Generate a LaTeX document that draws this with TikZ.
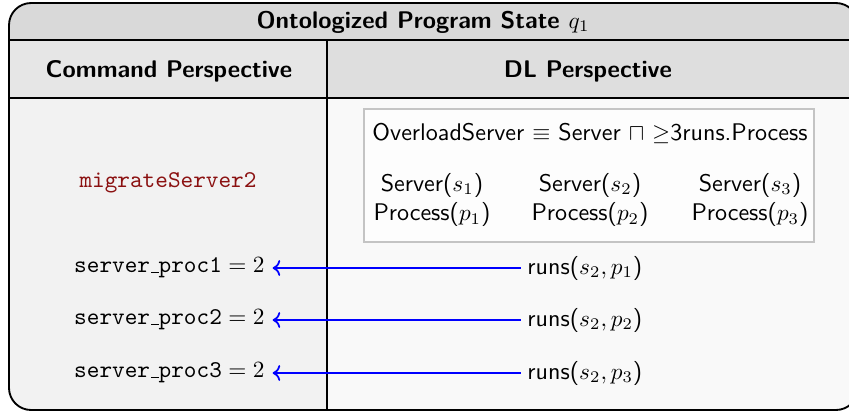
\documentclass[tikz,border=0pt]{standalone}
\usetikzlibrary{arrows.meta}
\definecolor{titlegray}{HTML}{D9D9D9}
\definecolor{headleft}{HTML}{E6E6E6}
\definecolor{headright}{HTML}{DEDEDE}
\definecolor{bodyleft}{HTML}{F2F2F2}
\definecolor{bodyright}{HTML}{F9F9F9}
\definecolor{boxborder}{HTML}{C4C4C4}
\definecolor{cmdred}{HTML}{8B1111}
\newcommand\ulbar{\leavevmode\kern.06em\vbox{\hrule width.3em}}
\newcommand\fsz{\fontsize{10.35pt}{12.6pt}\selectfont}
\begin{document}
\begin{tikzpicture}[x=0.43pt,y=-0.43pt,
  headtxt/.style={font=\fsz\sffamily\bfseries, inner sep=0pt},
  dltxt/.style={font=\fsz\sffamily, inner sep=0pt},
  codetxt/.style={font=\fsz\ttfamily, inner sep=0pt},
  maplink/.style={draw=blue, line width=0.75pt, <-},
  rule/.style={draw=black, line width=0.5pt}]
\useasboundingbox (0,0) rectangle (849,412);
\clip (0,0) rectangle (849,412);
% frame contents
\begin{scope}
  \clip[rounded corners=9.5pt] (9,3) rectangle (858,410);
  \fill[titlegray] (9,3) rectangle (858,40);
  \fill[headleft] (9,40) rectangle (327,98);
  \fill[headright] (327,40) rectangle (858,98);
  \fill[bodyleft] (9,98) rectangle (327,410);
  \fill[bodyright] (327,98) rectangle (858,410);
  \draw[rule] (9,40) -- (858,40);
  \draw[rule] (9,98) -- (858,98);
  \draw[rule] (327,40) -- (327,410);
\end{scope}
\draw[line width=0.8pt, rounded corners=9.5pt] (9,3) rectangle (858,410);
% headers
\node[headtxt] (title) at (423,22) {Ontologized Program State $q_1$};
\node[headtxt] (cmdhead) at (169,71) {Command Perspective};
\node[headtxt] (dlhead) at (588,71) {DL Perspective};
% DL box
\draw[boxborder, fill=white!60!bodyright, line width=0.5pt] (364,109) rectangle (814,242);
\node[dltxt] (concept) at (590,133) {OverloadServer $\equiv$ Server $\sqcap$ $\geq$3runs.Process};
\node[dltxt, align=center] (a1) at (432,200) {Server($s_1$)\\[0pt]Process($p_1$)};
\node[dltxt, align=center] (a2) at (590,200) {Server($s_2$)\\[0pt]Process($p_2$)};
\node[dltxt, align=center] (a3) at (750,200) {Server($s_3$)\\[0pt]Process($p_3$)};
% command
\node[codetxt, text=cmdred] (cmd) at (168,183) {migrateServer2};
\node[codetxt, anchor=east] (sp1) at (265,268) {$\texttt{server\ulbar proc1} = 2$};
\node[codetxt, anchor=east] (sp2) at (265,320) {$\texttt{server\ulbar proc2} = 2$};
\node[codetxt, anchor=east] (sp3) at (265,373) {$\texttt{server\ulbar proc3} = 2$};
\node[dltxt, anchor=west] (r1) at (527,268) {runs($s_2,p_1$)};
\node[dltxt, anchor=west] (r2) at (527,320) {runs($s_2,p_2$)};
\node[dltxt, anchor=west] (r3) at (527,373) {runs($s_2,p_3$)};
\draw[maplink] ([xshift=3.3pt]sp1.east) -- ([xshift=-2.5pt]r1.west);
\draw[maplink] ([xshift=3.3pt]sp2.east) -- ([xshift=-2.5pt]r2.west);
\draw[maplink] ([xshift=3.3pt]sp3.east) -- ([xshift=-2.5pt]r3.west);
\end{tikzpicture}
\end{document}
